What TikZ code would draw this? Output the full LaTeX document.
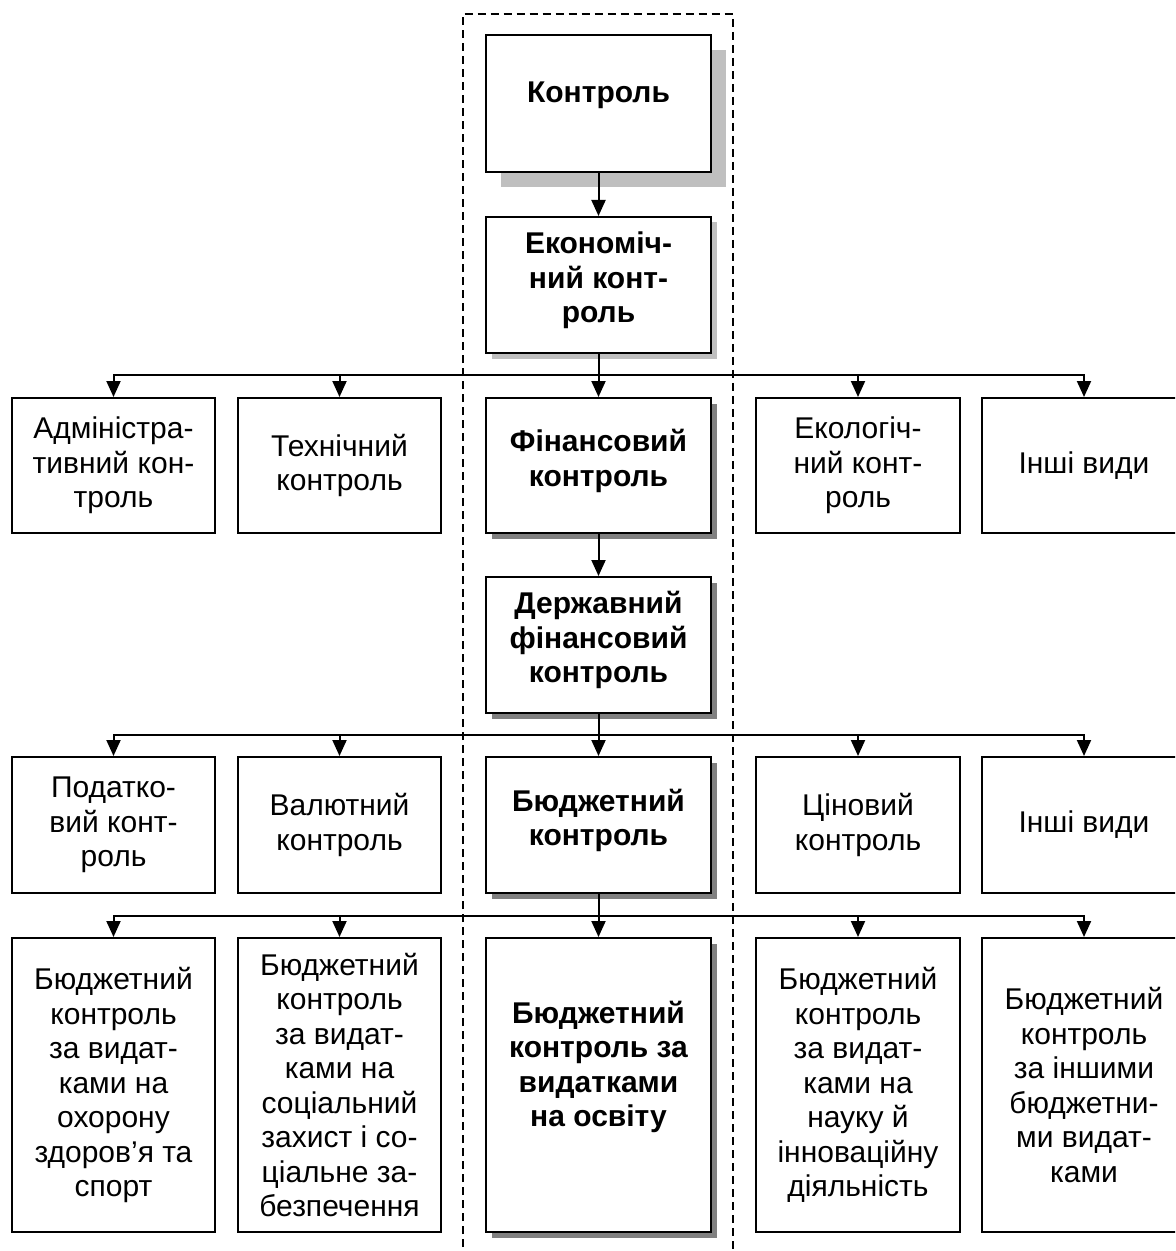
\documentclass[tikz,border=0pt]{standalone}
\usepackage{fontspec}
\setmainfont{Liberation Sans}
\usetikzlibrary{arrows.meta,shadows}
\newcommand{\dropln}[1]{\\[#1]\mbox{}}
\begin{document}
\begin{tikzpicture}[x=0.5pt,y=-0.5pt,
  box/.style={draw, line width=1pt, align=center, inner sep=0pt, fill=white,
    font=\fontsize{15pt}{17.25pt}\selectfont},
  bbox/.style={box, font=\fontsize{15pt}{17.25pt}\selectfont\bfseries},
  wl/.style={minimum width=101.5pt},
  wr/.style={minimum width=102pt},
  wc/.style={minimum width=112.5pt},
  hA/.style={minimum height=68pt},
  hB/.style={minimum height=67.5pt},
  hC/.style={minimum height=147pt},
  lshadow/.style={drop shadow={shadow xshift=2.75pt,shadow yshift=-2.75pt,fill=black!25,opacity=1}},
  bigshadow/.style={drop shadow={shadow xshift=7.5pt,shadow yshift=-7.5pt,fill=black!25,opacity=1}},
  dshadow/.style={drop shadow={shadow xshift=2.75pt,shadow yshift=-2.75pt,fill=black!50,opacity=1}},
  arr/.style={-{Triangle[width=7pt,length=8pt]}, line width=1pt},
  bus/.style={line width=1pt},
  frame/.style={line width=0.9pt, dash pattern=on 4pt off 2.5pt}
]
\clip (0,0) rectangle (1175,1251);

% dashed frame
\draw[frame] (462.7,1260) |- (732.7,14) -- (732.7,1260);

% central column
\node[bbox, wc, minimum height=68.5pt, bigshadow] (kontrol) at (598.5,103.5) {Контроль\dropln{-6.25pt}};
\node[bbox, wc, hA, lshadow] (econ) at (598.5,285) {Економіч-\\ний конт-\\роль\dropln{-9.5pt}};

% row 2
\node[box, wl, hB] (adm) at (113.5,465.5) {Адміністра-\\тивний кон-\\троль};
\node[box, wl, hB] (tech) at (339.5,465.5) {Технічний\\контроль};
\node[bbox, wc, hB, dshadow] (fin) at (598.5,465.5) {Фінансовий\\контроль\dropln{-9.5pt}};
\node[box, wr, hB] (eco) at (858,465.5) {Екологіч-\\ний конт-\\роль};
\node[box, wr, hB] (oth1) at (1084,465.5) {Інші види};

\node[bbox, wc, hA, dshadow] (derzh) at (598.5,645) {Державний\\фінансовий\\контроль\dropln{-9.5pt}};

% row 3
\node[box, wl, hA] (pod) at (113.5,825) {Податко-\\вий конт-\\роль};
\node[box, wl, hA] (val) at (339.5,825) {Валютний\\контроль};
\node[bbox, wc, hA, dshadow] (budg) at (598.5,825) {Бюджетний\\контроль\dropln{-9.5pt}};
\node[box, wr, hA] (cin) at (858,825) {Ціновий\\контроль};
\node[box, wr, hA] (oth2) at (1084,825) {Інші види};

% row 4
\node[box, wl, hC] (b1) at (113.5,1085) {Бюджетний\\контроль\\за видат-\\ками на\\охорону\\здоров’я та\\спорт};
\node[box, wl, hC] (b2) at (339.5,1085) {Бюджетний\\контроль\\за видат-\\ками на\\соціальний\\захист і со-\\ціальне за-\\безпечення};
\node[bbox, wc, hC, dshadow] (b3) at (598.5,1085) {Бюджетний\\контроль за\\видатками\\на освіту\dropln{3.75pt}};
\node[box, wr, hC] (b4) at (858,1085) {Бюджетний\\контроль\\за видат-\\ками на\\науку й\\інноваційну\\діяльність};
\node[box, wr, hC] (b5) at (1084,1085) {Бюджетний\\контроль\\за іншими\\бюджетни-\\ми видат-\\ками};

% bus points
\coordinate (bus1) at (598.5,375);
\coordinate (bus2) at (598.5,735);
\coordinate (bus3) at (598.5,916);

% connectors
\draw[arr] (kontrol) -- (econ);
\draw[arr] (econ) -- (fin);
\draw[arr] (bus1) -| (adm);
\draw[arr] (bus1) -| (tech);
\draw[arr] (bus1) -| (eco);
\draw[arr] (bus1) -| (oth1);

\draw[arr] (fin) -- (derzh);
\draw[arr] (derzh) -- (budg);
\draw[arr] (bus2) -| (pod);
\draw[arr] (bus2) -| (val);
\draw[arr] (bus2) -| (cin);
\draw[arr] (bus2) -| (oth2);

\draw[arr] (budg) -- (b3);
\draw[arr] (bus3) -| (b1);
\draw[arr] (bus3) -| (b2);
\draw[arr] (bus3) -| (b4);
\draw[arr] (bus3) -| (b5);
\end{tikzpicture}
\end{document}
